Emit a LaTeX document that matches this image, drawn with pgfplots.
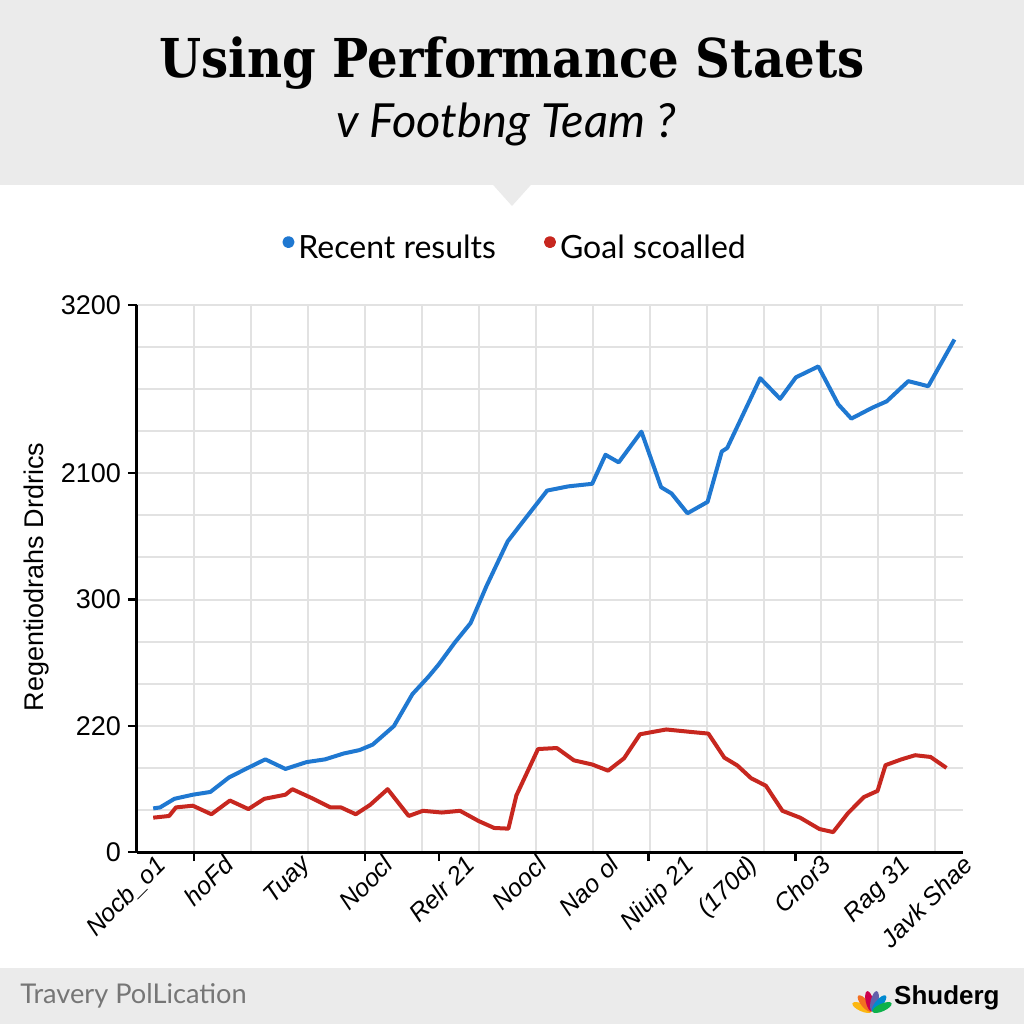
\documentclass[border=0pt]{standalone}
\usepackage{fontspec}
\setmainfont{Liberation Sans}
\newfontfamily\titlefont{DejaVu Serif Condensed}
\newfontfamily\latofont{Lato}
\usepackage{pgfplots}
\pgfplotsset{compat=1.18}
\definecolor{bandgray}{HTML}{EBEBEB}
\definecolor{gridgray}{HTML}{E2E2E2}
\definecolor{lineblue}{HTML}{1F78D1}
\definecolor{linered}{HTML}{C7271F}
\definecolor{footgray}{HTML}{767676}
\begin{document}
\begin{tikzpicture}[x=1pt,y=1pt]
\fill[white] (0,0) rectangle (512,512);
\fill[bandgray] (0,419.5) rectangle (512,512);
\fill[bandgray] (246.5,419.6) -- (256,409) -- (265.5,419.6) -- cycle;
\fill[bandgray] (0,0) rectangle (512,28);
\node[anchor=base, inner sep=0pt, font=\titlefont\bfseries\fontsize{26.8}{30}\selectfont] at (256,473) {Using Performance Staets};
\node[anchor=base, inner sep=0pt, font=\latofont\itshape\fontsize{23.5}{26}\selectfont] at (253,443) {v Footbng Team ?};
\node[rotate=90, inner sep=0pt, font=\fontsize{13.5}{14}\selectfont] at (18.5,223.5) {Regentiodrahs Drdrics};
\node[anchor=base west, inner sep=0pt, text=footgray, font=\latofont\fontsize{13.6}{14}\selectfont] at (10,10) {Travery PolLication};
\node[anchor=base east, inner sep=0pt, font=\bfseries\fontsize{13}{14}\selectfont] at (500,9.5) {Shuderg};
\foreach \ang/\col in {66/FCB711, 40/F37021, 13/CC004C, -13/6460AA, -40/0089D0, -66/0DB14B}{
  \definecolor{feather}{HTML}{\col}
  \fill[feather, rotate around={\ang:(436,6)}] (436,11.5) ellipse (1.9pt and 5.2pt);
}
\begin{axis}[
  at={(68.5pt,86pt)}, anchor=south west,
  width=413pt, height=273.5pt, scale only axis,
  xmin=0, xmax=14.5, ymin=0, ymax=13,
  axis lines=left,
  axis line style={-, line width=1.5pt, black},
  x axis line style={-}, y axis line style={-},
  tick align=outside,
  major tick length=4.5pt,
  tick style={black, line width=1.1pt},
  ytick={0,3,6,9,13},
  yticklabels={0,220,300,2100,3200},
  yticklabel style={font=\fontsize{13.5}{13.5}\selectfont},
  xtick={1,4,5.3,8.98,11.56},
  xticklabels={},
  minor xtick={1,...,14},
  minor ytick={1,...,13},
  minor tick length=0pt,
  grid=minor,
  minor grid style={gridgray, line width=1pt},
  extra x ticks={0.30,1.50,2.85,4.30,5.74,6.99,8.27,9.57,10.69,11.99,13.37,14.47},
  extra x tick labels={Nocb\_o1, hoFd, Tuay, Noocl, Relr 21, Noocl, Nao ol, Niuip 21, (170d), Chor3, Rag 31, Javk Shae},
  extra x tick style={major tick length=0pt, grid=none, tick style={draw=none},
    tick label style={rotate=45, anchor=north east, inner sep=0.5pt, font=\itshape\fontsize{12.5}{12.5}\selectfont}},
  /pgf/number format/assume math mode=true,
  legend columns=2,
  legend style={draw=none, fill=none, at={(0.459,1.104)}, anchor=center,
    font=\latofont\fontsize{16}{17}\selectfont,
    /tikz/every even column/.append style={column sep=22pt}},
  legend image code/.code={\fill (2pt,0.3em) circle (2pt);},
  clip=false,
]
\addplot[lineblue, line width=2pt, line join=round] coordinates {
(0.285,1.036) (0.406,1.06) (0.656,1.264) (0.981,1.362) (1.288,1.427) (1.613,1.77)
(1.91,1.974) (2.253,2.202) (2.606,1.974) (2.978,2.137) (3.303,2.202) (3.628,2.341)
(3.906,2.422) (4.138,2.553) (4.51,2.993) (4.835,3.752) (5.113,4.16) (5.299,4.462)
(5.578,4.976) (5.856,5.44) (6.135,6.32) (6.506,7.38) (6.785,7.87) (7.2,8.59)
(7.574,8.69) (7.99,8.75) (8.224,9.44) (8.456,9.26) (8.855,9.99) (9.2,8.67)
(9.384,8.52) (9.663,8.05) (10.016,8.32) (10.266,9.52) (10.36,9.60) (10.94,11.26)
(11.29,10.77) (11.566,11.28) (11.96,11.54) (12.31,10.64) (12.54,10.30) (12.91,10.56)
(13.16,10.71) (13.54,11.19) (13.89,11.07) (14.35,12.18)
};
\addlegendentry{Recent results}
\addplot[linered, line width=2pt, line join=round] coordinates {
(0.285,0.816) (0.564,0.856) (0.684,1.06) (0.981,1.10) (1.306,0.897) (1.631,1.223)
(1.956,1.02) (2.235,1.264) (2.606,1.362) (2.727,1.493) (3.07,1.28) (3.395,1.06)
(3.58,1.06) (3.84,0.897) (4.09,1.117) (4.40,1.493) (4.77,0.856) (5.02,0.979)
(5.35,0.938) (5.67,0.979) (6.0,0.734) (6.27,0.571) (6.52,0.555) (6.66,1.346)
(7.04,2.447) (7.37,2.471) (7.67,2.178) (7.99,2.08) (8.27,1.933) (8.55,2.227)
(8.83,2.798) (9.29,2.912) (9.71,2.855) (10.03,2.814) (10.31,2.243) (10.54,2.055)
(10.78,1.754) (11.04,1.574) (11.33,0.979) (11.64,0.816) (11.98,0.546) (12.22,0.473)
(12.48,0.922) (12.76,1.305) (13.0,1.452) (13.14,2.064) (13.42,2.202) (13.66,2.30)
(13.93,2.259) (14.21,1.998)
};
\addlegendentry{Goal scoalled}
\end{axis}
\end{tikzpicture}
\end{document}
